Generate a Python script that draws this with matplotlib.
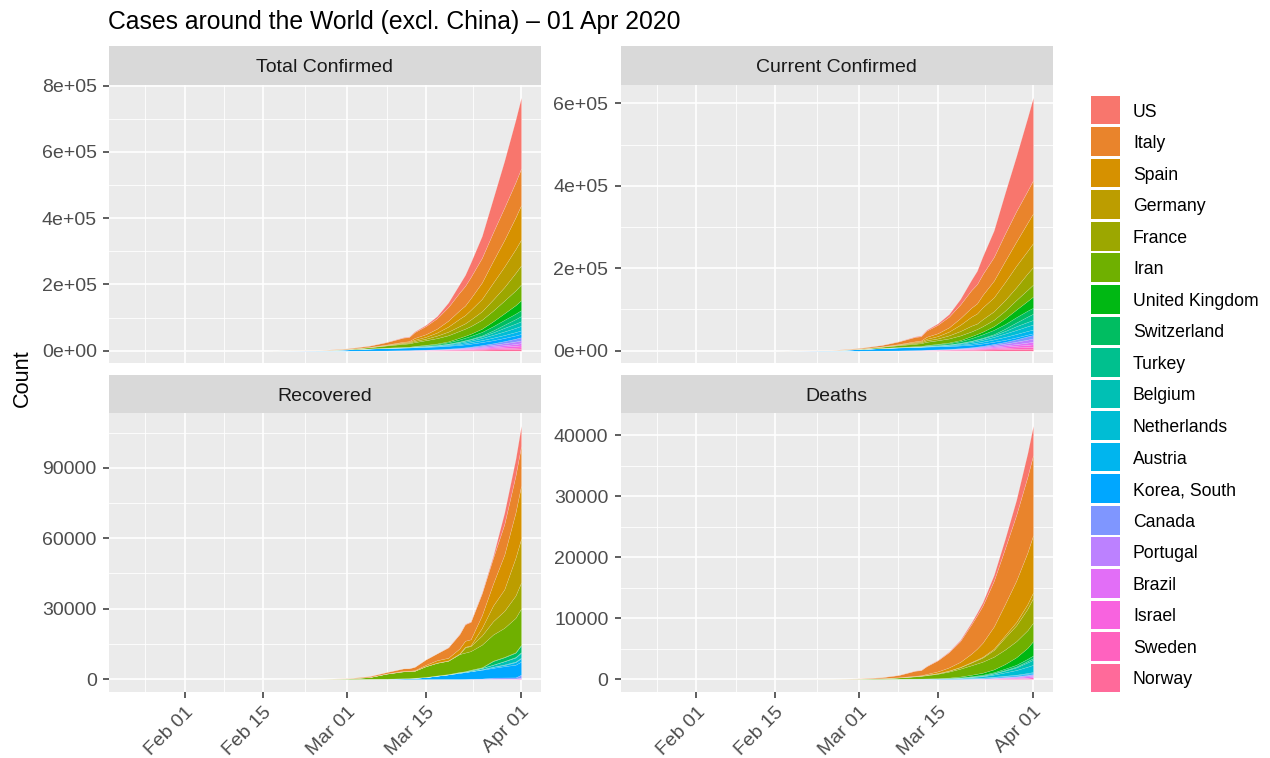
import numpy as np
import matplotlib
matplotlib.use("Agg")
import matplotlib.pyplot as plt
import matplotlib.dates as mdates
from matplotlib.patches import Rectangle
import datetime as dt
import math

# ---------------- data ----------------
dates = ["2020-01-22", "2020-02-01", "2020-02-15", "2020-02-25", "2020-03-01", "2020-03-05",
         "2020-03-08", "2020-03-11", "2020-03-12", "2020-03-13", "2020-03-15", "2020-03-17",
         "2020-03-19", "2020-03-21", "2020-03-22", "2020-03-23", "2020-03-25", "2020-03-27",
         "2020-03-29", "2020-03-31", "2020-04-01"]

countries = ["US", "Italy", "Spain", "Germany", "France", "Iran", "United Kingdom", "Switzerland",
             "Turkey", "Belgium", "Netherlands", "Austria", "Korea, South", "Canada", "Portugal",
             "Brazil", "Israel", "Sweden", "Norway"]

confirmed = {
    "US": [1, 8, 13, 53, 75, 217, 537, 1281, 1663, 2179, 3499, 6421, 13677, 25489, 33276, 43847, 65778, 101657, 140886, 188172, 213372],
    "Italy": [0, 2, 3, 322, 1694, 3858, 7375, 12462, 12462, 17660, 24747, 31506, 41035, 53578, 59138, 63927, 74386, 86498, 97689, 105792, 110574],
    "Spain": [0, 1, 2, 6, 84, 282, 673, 2277, 2277, 5232, 7798, 11748, 17963, 25374, 28768, 35136, 49515, 65719, 80110, 95923, 104118],
    "Germany": [0, 8, 16, 17, 130, 482, 1040, 1908, 2078, 3675, 5795, 9257, 15320, 22213, 24873, 29056, 37323, 50871, 62095, 71808, 77872],
    "France": [0, 6, 12, 14, 130, 377, 1126, 2284, 2284, 3667, 4480, 7699, 10947, 14459, 16018, 19856, 25600, 33402, 40708, 52827, 57749],
    "Iran": [0, 0, 0, 95, 978, 3513, 6566, 9000, 10075, 11364, 13938, 16169, 18407, 20610, 21638, 23049, 27017, 32332, 38309, 44605, 47593],
    "United Kingdom": [0, 2, 9, 13, 36, 116, 273, 459, 459, 802, 1144, 1960, 2716, 5067, 5741, 6726, 9640, 14745, 19780, 25481, 29865],
    "Switzerland": [0, 0, 0, 1, 27, 114, 337, 652, 652, 1139, 2200, 2700, 4075, 6575, 7474, 8795, 10897, 12928, 14829, 16605, 17768],
    "Turkey": [0, 0, 0, 0, 0, 0, 0, 1, 1, 5, 6, 47, 191, 670, 1236, 1529, 2433, 5698, 9217, 13531, 15679],
    "Belgium": [0, 0, 1, 1, 2, 50, 200, 314, 314, 559, 886, 1243, 1795, 2815, 3401, 3743, 4937, 7284, 10836, 12775, 13964],
    "Netherlands": [0, 0, 0, 0, 10, 82, 265, 503, 503, 804, 1135, 1705, 2460, 3640, 4216, 4764, 6438, 8647, 10866, 12667, 13696],
    "Austria": [0, 0, 0, 2, 14, 41, 104, 246, 302, 504, 860, 1332, 2013, 3024, 3631, 4486, 5888, 7697, 8788, 10180, 10711],
    "Korea, South": [1, 12, 28, 977, 3736, 6088, 7314, 7755, 7869, 7979, 8162, 8320, 8565, 8799, 8897, 8961, 9137, 9332, 9583, 9786, 9887],
    "Canada": [0, 4, 7, 11, 24, 37, 64, 108, 117, 193, 252, 478, 873, 1278, 1469, 2088, 3251, 4682, 6320, 8527, 9560],
    "Portugal": [0, 0, 0, 0, 0, 8, 30, 59, 59, 112, 245, 448, 785, 1280, 1600, 2060, 2995, 4268, 5962, 7443, 8251],
    "Brazil": [0, 0, 0, 0, 2, 8, 25, 52, 77, 151, 162, 321, 621, 1021, 1593, 1924, 2554, 3417, 4256, 5717, 6836],
    "Israel": [0, 0, 0, 1, 10, 21, 39, 109, 131, 161, 251, 337, 677, 883, 1071, 1238, 2369, 3035, 4247, 5358, 6092],
    "Sweden": [0, 1, 1, 1, 14, 94, 203, 500, 599, 814, 1022, 1190, 1423, 1763, 1934, 2046, 2526, 3069, 3700, 4435, 4947],
    "Norway": [0, 0, 0, 0, 19, 108, 176, 598, 702, 996, 1221, 1463, 1746, 2118, 2385, 2621, 3084, 3755, 4284, 4641, 4863],
}

recovered = {
    "US": [0, 0, 3, 6, 7, 8, 8, 8, 12, 12, 12, 17, 106, 176, 178, 178, 361, 869, 4864, 7024, 8474],
    "Italy": [0, 0, 0, 1, 83, 414, 622, 1045, 1045, 1439, 2335, 2941, 4440, 6072, 7024, 7432, 9362, 10950, 13030, 15729, 16847],
    "Spain": [0, 0, 2, 2, 2, 2, 30, 183, 183, 193, 517, 1028, 1107, 2125, 2575, 2575, 5367, 9357, 14709, 19259, 22647],
    "Germany": [0, 0, 1, 14, 16, 16, 18, 25, 25, 46, 46, 67, 113, 233, 266, 266, 3243, 6658, 9211, 16100, 18700],
    "France": [0, 0, 2, 12, 12, 12, 12, 12, 12, 12, 12, 12, 12, 12, 2200, 2200, 3907, 5700, 7202, 9513, 11053],
    "Iran": [0, 0, 0, 49, 175, 739, 2134, 2959, 2959, 2959, 4590, 5389, 5710, 7635, 7931, 7931, 9625, 11133, 12391, 14656, 15473],
    "United Kingdom": [0, 0, 8, 8, 8, 8, 18, 19, 19, 19, 19, 65, 65, 65, 65, 135, 135, 151, 151, 179, 179],
    "Switzerland": [0, 0, 0, 0, 0, 2, 3, 4, 4, 4, 4, 4, 15, 15, 15, 131, 131, 1530, 1595, 1823, 2967],
    "Turkey": [0, 0, 0, 0, 0, 0, 0, 0, 0, 0, 0, 0, 0, 0, 0, 0, 26, 42, 105, 243, 243],
    "Belgium": [0, 0, 1, 1, 1, 1, 1, 1, 1, 1, 1, 31, 31, 263, 263, 340, 547, 858, 1359, 1696, 2132],
    "Netherlands": [0, 0, 0, 0, 0, 0, 0, 0, 0, 0, 2, 2, 2, 2, 2, 2, 3, 3, 250, 250, 253],
    "Austria": [0, 0, 0, 0, 0, 0, 0, 4, 4, 6, 6, 6, 9, 9, 9, 9, 225, 479, 479, 1095, 1436],
    "Korea, South": [0, 0, 9, 22, 30, 88, 130, 288, 333, 510, 834, 1401, 1947, 2612, 2909, 3166, 3730, 4144, 4811, 5408, 5567],
    "Canada": [0, 0, 1, 3, 6, 8, 8, 8, 8, 8, 9, 9, 9, 9, 9, 112, 112, 466, 466, 466, 1324],
    "Portugal": [0, 0, 0, 0, 0, 0, 0, 0, 0, 0, 0, 0, 0, 5, 5, 5, 22, 43, 43, 43, 43],
    "Brazil": [0, 0, 0, 0, 0, 0, 0, 0, 0, 0, 0, 0, 0, 0, 2, 2, 2, 6, 6, 6, 127],
    "Israel": [0, 0, 0, 0, 1, 1, 4, 4, 4, 4, 4, 11, 11, 11, 37, 37, 68, 89, 132, 163, 241],
    "Sweden": [0, 0, 0, 0, 0, 0, 1, 1, 1, 1, 1, 1, 16, 16, 16, 16, 16, 16, 16, 16, 103],
    "Norway": [0, 0, 0, 0, 0, 0, 0, 0, 1, 1, 1, 1, 1, 1, 1, 1, 1, 1, 7, 7, 7],
}

deaths = {
    "US": [0, 0, 0, 0, 1, 11, 21, 36, 40, 47, 63, 108, 200, 307, 427, 552, 944, 1581, 2467, 3873, 4757],
    "Italy": [0, 0, 0, 11, 34, 148, 366, 827, 827, 1266, 1809, 2503, 3405, 4825, 5476, 6077, 7503, 9134, 10779, 12428, 13155],
    "Spain": [0, 0, 0, 0, 0, 3, 17, 55, 55, 133, 289, 509, 830, 1375, 1772, 2311, 3647, 5138, 6803, 8464, 9387],
    "Germany": [0, 0, 0, 0, 0, 0, 0, 3, 3, 7, 11, 24, 44, 84, 94, 123, 206, 342, 533, 775, 920],
    "France": [0, 0, 1, 1, 2, 6, 19, 48, 48, 79, 91, 148, 243, 450, 562, 674, 1100, 1995, 2606, 3532, 4043],
    "Iran": [0, 0, 0, 16, 54, 107, 194, 354, 429, 514, 724, 988, 1284, 1556, 1685, 1812, 2077, 2378, 2640, 2898, 3036],
    "United Kingdom": [0, 0, 0, 0, 0, 1, 3, 8, 8, 8, 21, 56, 138, 233, 281, 335, 465, 759, 1231, 1793, 2357],
    "Switzerland": [0, 0, 0, 0, 0, 1, 2, 4, 4, 11, 14, 27, 41, 76, 98, 120, 153, 231, 300, 373, 433],
    "Turkey": [0, 0, 0, 0, 0, 0, 0, 0, 0, 0, 0, 1, 3, 9, 30, 37, 59, 92, 131, 214, 277],
    "Belgium": [0, 0, 0, 0, 0, 0, 0, 3, 3, 3, 4, 10, 21, 67, 75, 88, 178, 289, 431, 705, 828],
    "Netherlands": [0, 0, 0, 0, 0, 0, 3, 5, 5, 10, 20, 43, 76, 136, 179, 213, 357, 547, 772, 1040, 1175],
    "Austria": [0, 0, 0, 0, 0, 0, 0, 0, 0, 1, 1, 3, 6, 8, 16, 21, 30, 52, 86, 128, 146],
    "Korea, South": [0, 0, 0, 10, 17, 35, 50, 60, 66, 66, 75, 81, 91, 102, 104, 111, 126, 139, 152, 162, 165],
    "Canada": [0, 0, 0, 0, 0, 0, 0, 1, 1, 1, 1, 5, 12, 19, 21, 25, 38, 54, 65, 101, 109],
    "Portugal": [0, 0, 0, 0, 0, 0, 0, 0, 0, 0, 0, 1, 3, 12, 14, 23, 43, 76, 119, 160, 187],
    "Brazil": [0, 0, 0, 0, 0, 0, 0, 0, 0, 0, 0, 1, 6, 18, 25, 34, 59, 92, 136, 201, 240],
    "Israel": [0, 0, 0, 0, 0, 0, 0, 0, 0, 0, 0, 0, 0, 1, 1, 1, 5, 12, 15, 18, 21],
    "Sweden": [0, 0, 0, 0, 0, 0, 0, 1, 1, 1, 3, 7, 10, 16, 20, 21, 62, 105, 110, 180, 239],
    "Norway": [0, 0, 0, 0, 0, 0, 0, 0, 0, 1, 3, 3, 6, 7, 7, 10, 14, 19, 25, 39, 44],
}

# current confirmed = confirmed - recovered - deaths
current = {c: list(np.array(confirmed[c]) - np.array(recovered[c]) - np.array(deaths[c])) for c in countries}

panel_titles = ["Total Confirmed", "Current Confirmed", "Recovered", "Deaths"]
panel_data = [confirmed, current, recovered, deaths]
panel_yticks = [[0, 2e5, 4e5, 6e5, 8e5], [0, 2e5, 4e5, 6e5],
                [0, 30000, 60000, 90000], [0, 10000, 20000, 30000, 40000]]
x_tick_dates = ["2020-02-01", "2020-02-15", "2020-03-01", "2020-03-15", "2020-04-01"]
x_tick_labels = ["Feb 01", "Feb 15", "Mar 01", "Mar 15", "Apr 01"]
title = "Cases around the World (excl. China) \u2013 01 Apr 2020"

# ---------------- style ----------------
plt.rcParams['font.family'] = ['Liberation Sans', 'DejaVu Sans']
W, H = 1270, 758
fig = plt.figure(figsize=(W / 100, H / 100), dpi=100)


def hcl(h, c=100.0, l=65.0):
    Xn, Yn, Zn = 95.047, 100.0, 108.883
    hr = math.radians(h)
    U, V = c * math.cos(hr), c * math.sin(hr)
    Y = Yn * ((l + 16) / 116) ** 3
    den = Xn + 15 * Yn + 3 * Zn
    un, vn = 4 * Xn / den, 9 * Yn / den
    u = U / (13 * l) + un
    v = V / (13 * l) + vn
    X = 9.0 * Y * u / (4 * v)
    Z = -X / 3 - 5 * Y + 3 * Y / v
    X, Y, Z = X / 100, Y / 100, Z / 100
    r = 3.240479 * X - 1.537150 * Y - 0.498535 * Z
    g = -0.969256 * X + 1.875992 * Y + 0.041556 * Z
    b = 0.055648 * X - 0.204043 * Y + 1.057311 * Z

    def gam(t):
        t = 1.055 * t ** (1 / 2.4) - 0.055 if t > 0.0031308 else 12.92 * t
        return min(max(t, 0.0), 1.0)
    return (gam(r), gam(g), gam(b))


n = len(countries)
hues = [15 + i * 360.0 / n for i in range(n)]
colors = {c: hcl(hues[i]) for i, c in enumerate(countries)}

xdates = np.array([np.datetime64(d) for d in dates]).astype("datetime64[D]").astype(object)
xnum = mdates.date2num(xdates)
span = xnum.max() - xnum.min()
xlim = (xnum.min() - 0.05 * span, xnum.max() + 0.05 * span)
major_x = mdates.date2num([dt.datetime.strptime(d, "%Y-%m-%d") for d in x_tick_dates])


def minor_between(major, lim):
    b = list(major)
    bd = b[1] - b[0]
    if lim[0] < b[0]:
        b = [b[0] - bd] + b
    if lim[1] > b[-1]:
        b = b + [b[-1] + bd]
    mids = [(b[i] + b[i + 1]) / 2 for i in range(len(b) - 1)]
    return [m for m in mids if lim[0] <= m <= lim[1]]


minor_x = minor_between(list(major_x), xlim)

# pixel geometry (top-origin)
cols = [(109, 540.7), (620.7, 1052.7)]
rows = [(46, 85, 363.3), (375, 413.3, 691.7)]


def px_axes(x0, y0, x1, y1):
    return fig.add_axes([x0 / W, 1 - y1 / H, (x1 - x0) / W, (y1 - y0) / H])


GRID = "white"
for k in range(4):
    r, cidx = divmod(k, 2)
    x0, x1 = cols[cidx]
    st, pt, pb = rows[r]
    # strip
    sax = px_axes(x0, st, x1, pt)
    sax.set_facecolor("#D9D9D9")
    sax.set_xticks([]); sax.set_yticks([])
    for s in sax.spines.values():
        s.set_visible(False)
    sax.text(0.5, 0.5, panel_titles[k], ha="center", va="center_baseline", fontsize=14,
             color="#1A1A1A", transform=sax.transAxes)

    ax = px_axes(x0, pt, x1, pb)
    ax.set_facecolor("#EBEBEB")
    for s in ax.spines.values():
        s.set_visible(False)
    data = panel_data[k]
    order = countries[::-1]  # Norway at bottom, US on top
    ys = [np.array(data[c], dtype=float) for c in order]
    ax.stackplot(xnum, *ys, colors=[colors[c] for c in order],
                 edgecolor=(1, 1, 1, 0.3), linewidth=0.3, zorder=3)
    top = np.sum(ys, axis=0).max()
    ylim = (-0.05 * top, 1.05 * top)
    ax.set_xlim(*xlim)
    ax.set_ylim(*ylim)

    yt = panel_yticks[k]
    minor_y = minor_between(yt, ylim)
    for v in minor_y:
        ax.axhline(v, color=GRID, lw=0.6, zorder=1)
    for v in minor_x:
        ax.axvline(v, color=GRID, lw=0.6, zorder=1)
    for v in yt:
        ax.axhline(v, color=GRID, lw=1.2, zorder=1.5)
    for v in major_x:
        ax.axvline(v, color=GRID, lw=1.2, zorder=1.5)

    ax.set_yticks(yt)
    if r == 0:
        ax.set_yticklabels([f"{v:.0e}" for v in yt])
    else:
        ax.set_yticklabels([f"{int(v)}" for v in yt])
    ax.tick_params(axis="y", length=4.3, width=1.1, color="#333333", pad=4.5,
                   labelsize=14, labelcolor="#4D4D4D")
    ax.set_xticks(major_x)
    if r == 1:
        ax.set_xticklabels(x_tick_labels, rotation=45, ha="right", va="top",
                           rotation_mode="anchor")
        ax.tick_params(axis="x", length=4.0, width=1.1, color="#333333", pad=4.5,
                       labelsize=14, labelcolor="#4D4D4D")
    else:
        ax.tick_params(axis="x", bottom=False, labelbottom=False)
    ax.minorticks_off()

# title and axis title
fig.text(108 / W, 1 - 29 / H, title, fontsize=17.8, ha="left", va="baseline", color="black")
fig.text(22 / W, 1 - 378 / H, "Count", rotation=90, ha="center", va="center", fontsize=15.6,
         color="black")

# legend
lax = fig.add_axes([0, 0, 1, 1])
lax.set_xlim(0, W)
lax.set_ylim(H, 0)
lax.axis("off")
key_top, key_step, key_size = 95.7, 31.55, 28.7
for i, c in enumerate(countries):
    y = key_top + i * key_step
    lax.add_patch(Rectangle((1091, y), key_size, key_size, facecolor=colors[c], edgecolor="none"))
    lax.text(1133, y + key_size / 2, c, ha="left", va="center_baseline", fontsize=12.7,
             color="black")

fig.savefig("out.png", dpi=100)
